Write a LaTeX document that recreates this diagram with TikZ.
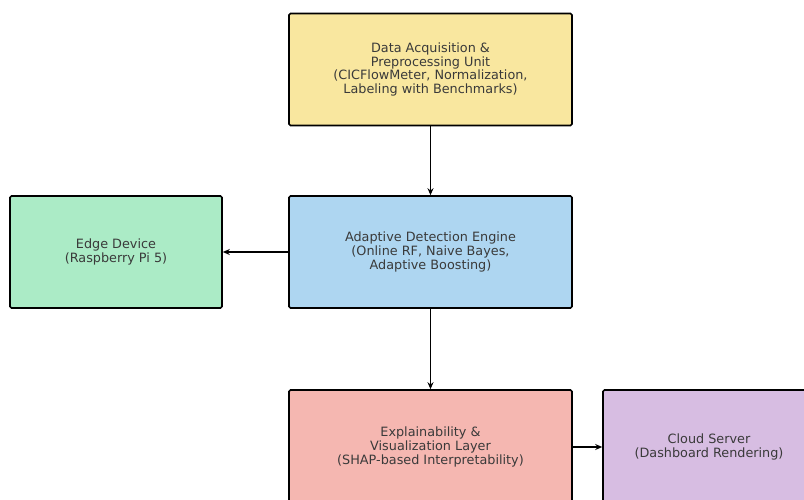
\documentclass[tikz,border=0pt]{standalone}
\usepackage{fontspec}
\setmainfont{DejaVu Sans}
\usetikzlibrary{arrows.meta}
\definecolor{cyel}{HTML}{F9E79F}
\definecolor{cblue}{HTML}{AED6F1}
\definecolor{cgreen}{HTML}{ABEBC6}
\definecolor{cred}{HTML}{F5B7B1}
\definecolor{cpurp}{HTML}{D7BDE2}
\definecolor{ctext}{HTML}{3A3A3A}
\begin{document}
\begin{tikzpicture}[x=1pt,y=-1pt,
  box/.style={draw=black, line width=1.6pt, rounded corners=1.5pt, align=center,
    text=ctext, font=\fontsize{12.8}{13.8}\selectfont, inner sep=0pt},
  conn/.style={-{Stealth[length=7pt,width=6pt]}, line width=1.5pt}]
\useasboundingbox (0,0) rectangle (804,499);
\node[box, fill=cyel, minimum width=283pt, minimum height=112pt] (acq) at (430.5,69.5)
  {Data Acquisition \&\\Preprocessing Unit\\(CICFlowMeter, Normalization,\\Labeling with Benchmarks)};
\node[box, fill=cblue, minimum width=283pt, minimum height=112pt] (det) at (430.5,252)
  {Adaptive Detection Engine\\(Online RF, Naive Bayes,\\Adaptive Boosting)};
\node[box, fill=cgreen, minimum width=212pt, minimum height=112pt] (edge) at (116,252)
  {Edge Device\\(Raspberry Pi 5)};
\node[box, fill=cred, minimum width=283pt, minimum height=114pt] (xai) at (430.5,447)
  {Explainability \&\\Visualization Layer\\(SHAP-based Interpretability)};
\node[box, fill=cpurp, minimum width=212pt, minimum height=114pt] (cloud) at (709,447)
  {Cloud Server\\(Dashboard Rendering)};
\draw[conn] (acq.south) -- (det.north);
\draw[conn] (det.west) -- (edge.east);
\draw[conn] (det.south) -- (xai.north);
\draw[conn] (xai.east) -- (cloud.west);
\end{tikzpicture}
\end{document}
